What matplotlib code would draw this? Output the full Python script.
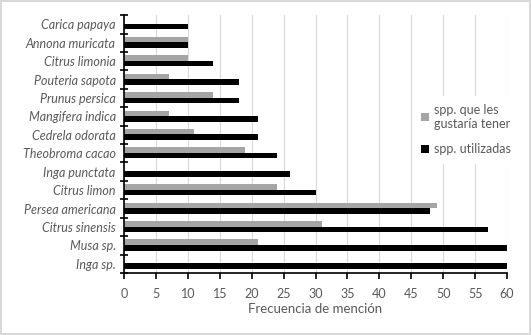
import numpy as np
import matplotlib
matplotlib.use("Agg")
import matplotlib.pyplot as plt

# categories from bottom to top
especies = ["Inga sp.", "Musa sp.", "Citrus sinensis", "Persea americana",
            "Citrus limon", "Inga punctata", "Theobroma cacao", "Cedrela odorata",
            "Mangifera indica", "Prunus persica", "Pouteria sapota",
            "Citrus limonia", "Annona muricata", "Carica papaya"]
gustaria = [0, 21, 31, 49, 24, 0, 19, 11, 7, 14, 7, 10, 10, 0]
utilizadas = [60, 60, 57, 48, 30, 26, 24, 21, 21, 18, 18, 14, 10, 10]

plt.rcParams['font.family'] = ['Lato', 'DejaVu Sans']
txt = '#595959'

fig = plt.figure(figsize=(5.31, 3.35), dpi=100, edgecolor='#d9d9d9', linewidth=1.5)
ax = fig.add_axes([0.2335, 0.185, 0.7215, 0.77])

y = np.arange(len(especies))
h = 0.3
ax.barh(y + h/2 + 0.02, gustaria, height=h, color='#a5a5a5', label='spp. que les\ngustaría tener', zorder=2)
ax.barh(y - h/2 + 0.02, utilizadas, height=h, color='#000000', label='spp. utilizadas', zorder=2)

ax.set_xlim(0, 60)
ax.set_ylim(-0.5, len(especies) - 0.5)
ax.set_xticks(range(0, 61, 5))
ax.set_yticks(y)
ax.set_yticklabels(especies, fontstyle='italic', color=txt, fontsize=9)
ax.set_yticks(np.arange(-0.5, len(especies), 1), minor=True)
ax.tick_params(axis='y', which='major', length=0, pad=6)
ax.tick_params(axis='y', which='minor', length=6, direction='inout', width=1.2)
ax.tick_params(axis='x', length=4, direction='out', width=1.2, labelsize=9, labelcolor=txt, pad=7)
ax.grid(axis='x', color='#d9d9d9', linewidth=0.8, zorder=0)
ax.set_axisbelow(True)
for s in ['top', 'right']:
    ax.spines[s].set_visible(False)
for s in ['left', 'bottom']:
    ax.spines[s].set_linewidth(1.2)
ax.set_xlabel('Frecuencia de mención', color=txt, fontsize=9.5, labelpad=2)

leg = ax.legend(loc='upper left', bbox_to_anchor=(0.74, 0.71), frameon=True,
                fontsize=9, handlelength=0.6, handleheight=0.6, handletextpad=0.4,
                labelspacing=1.1, borderpad=0.6, labelcolor=txt)
leg.get_frame().set_facecolor('white')
leg.get_frame().set_edgecolor('white')
leg.get_frame().set_alpha(1)

fig.savefig('out.png', dpi=100)
